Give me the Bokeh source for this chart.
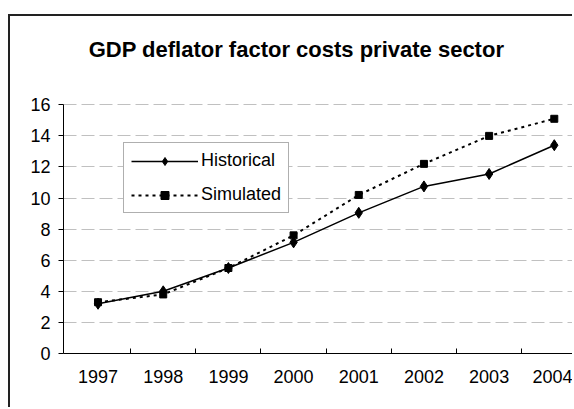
import numpy as np
from bokeh.plotting import figure
from bokeh.models import FixedTicker, Legend, LegendItem, Label
from bokeh.embed import file_html
from bokeh.resources import INLINE

years = ["1997", "1998", "1999", "2000", "2001", "2002", "2003", "2004"]
historical = [3.2, 4.0, 5.5, 7.15, 9.05, 10.75, 11.55, 13.4]
simulated = [3.3, 3.8, 5.5, 7.6, 10.2, 12.2, 14.0, 15.1]
y_ticks = [0, 2, 4, 6, 8, 10, 12, 14, 16]
title_text = "GDP deflator factor costs private sector"

xs = list(range(1, len(years) + 1))
FONT = "Liberation Sans"

# frame spans the whole height above the axis; the visible value axis stops at 16
p = figure(width=564, height=393, output_backend="svg", toolbar_location=None,
           x_range=(0.47, 8.31), y_range=(0, 21.68),
           min_border_left=53, min_border_right=0, min_border_top=0, min_border_bottom=56,
           margin=(14, 0, 0, 8),
           styles={"border-left": "2px solid #222", "border-top": "2px solid #222"})

p.outline_line_color = None
p.background_fill_color = "white"
p.border_fill_color = "white"

title = Label(x=233, y=304, x_units="screen", y_units="screen", text=title_text,
              text_font=FONT, text_font_size="22px", text_font_style="bold",
              text_color="black", text_align="center", text_baseline="alphabetic")
p.add_layout(title)

# grid
p.xgrid.grid_line_color = None
p.ygrid.ticker = FixedTicker(ticks=y_ticks)
p.ygrid.grid_line_color = "#c0c0c0"
p.ygrid.grid_line_dash = "13 5"
p.ygrid.grid_line_width = 1

# y axis
p.yaxis.ticker = FixedTicker(ticks=y_ticks)
p.yaxis.bounds = (y_ticks[0], y_ticks[-1])
p.yaxis.axis_line_color = "black"
p.yaxis.major_tick_line_color = "black"
p.yaxis.major_tick_out = 5
p.yaxis.major_tick_in = 0
p.yaxis.minor_tick_line_color = None
p.yaxis.major_label_text_font = FONT
p.yaxis.major_label_text_font_size = "18px"
p.yaxis.major_label_text_color = "black"
p.yaxis.major_label_standoff = 8

# x axis
p.xaxis.ticker = FixedTicker(ticks=xs, minor_ticks=[x + 0.5 for x in xs[:-1]])
p.xaxis.major_label_overrides = {x: y for x, y in zip(xs, years)}
p.xaxis.axis_line_color = "black"
p.xaxis.major_tick_line_color = None
p.xaxis.major_tick_out = 0
p.xaxis.major_tick_in = 0
p.xaxis.minor_tick_line_color = "black"
p.xaxis.minor_tick_in = 5
p.xaxis.minor_tick_out = 0
p.xaxis.major_label_text_font = FONT
p.xaxis.major_label_text_font_size = "18px"
p.xaxis.major_label_text_color = "black"
p.xaxis.major_label_standoff = 16

h_line = p.line(xs, historical, line_color="black", line_width=1.5)
h_mark = p.scatter(xs, historical, marker="diamond", size=11,
                   fill_color="black", line_color="black")
s_line = p.line(xs, simulated, line_color="black", line_width=2, line_dash="3 4")
s_mark = p.scatter(xs, simulated, marker="square", size=7,
                   fill_color="black", line_color="black")

legend = Legend(items=[
    LegendItem(label="Historical", renderers=[h_line, h_mark]),
    LegendItem(label="Simulated", renderers=[s_line, s_mark]),
], location=(60, 140))
legend.label_text_font = FONT
legend.label_text_font_size = "18px"
legend.label_text_color = "black"
legend.glyph_width = 67
legend.glyph_height = 20
legend.label_height = 20
legend.label_standoff = 3
legend.padding = 7
legend.spacing = 13
legend.margin = 0
legend.border_line_color = "#606060"
legend.border_line_width = 1
legend.background_fill_color = "white"
legend.background_fill_alpha = 1
p.add_layout(legend, "center")

open("out.html", "w").write(file_html(p, INLINE))
